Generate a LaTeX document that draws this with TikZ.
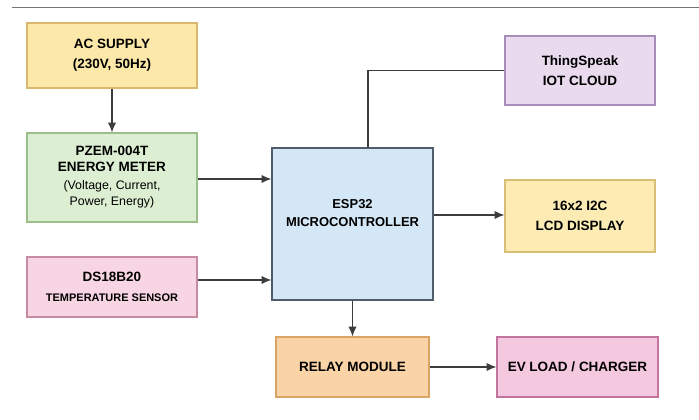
\documentclass[tikz,border=0pt]{standalone}
\usepackage{fontspec}
\setmainfont{Liberation Sans}
\usetikzlibrary{arrows.meta}

\definecolor{acfill}{HTML}{FCE8A8}
\definecolor{acline}{HTML}{D8B86E}
\definecolor{pzfill}{HTML}{DDEFD3}
\definecolor{pzline}{HTML}{9CBF8A}
\definecolor{espfill}{HTML}{D4E7F6}
\definecolor{espline}{HTML}{505C6C}
\definecolor{dsfill}{HTML}{F7D5E2}
\definecolor{dsline}{HTML}{C88CA2}
\definecolor{relfill}{HTML}{FAD4A6}
\definecolor{relline}{HTML}{D9A464}
\definecolor{evfill}{HTML}{F4C8DF}
\definecolor{evline}{HTML}{C2749F}
\definecolor{tsfill}{HTML}{E9DAEE}
\definecolor{tsline}{HTML}{A88DBA}
\definecolor{lcdfill}{HTML}{FCECB4}
\definecolor{lcdline}{HTML}{D6BE72}
\definecolor{wire}{HTML}{3C3C3C}

\tikzset{
  block/.style={draw, line width=0.9pt, inner sep=0pt, align=center,
    font=\bfseries\fontsize{9.6}{14}\selectfont},
  flow/.style={wire, line width=0.85pt, -{Latex[length=7pt,width=6pt]}},
}

\begin{document}
\begin{tikzpicture}[x=0.025cm, y=-0.025cm]
        \useasboundingbox (0,0) rectangle (699,420);
        \draw[gray!90!black, line width=0.7pt] (12,7) -- (699,7);

        % left column
        \node[block, fill=acfill, draw=acline, minimum width=4.25cm, minimum height=1.625cm]
          (ac) at (112,55.5) {AC SUPPLY\\(230V, 50Hz)};
        \node[block, fill=pzfill, draw=pzline, minimum width=4.25cm, minimum height=2.225cm]
          (pzem) at (112,177.5) {};
        \node[align=center, font=\bfseries\fontsize{9.6}{11}\selectfont] (pzemtxt) at (112,177)
          {PZEM-004T\\ENERGY METER\\[2pt]{\mdseries\fontsize{8.8}{10}\selectfont(Voltage, Current,}\\{\mdseries\fontsize{8.8}{10}\selectfont Power, Energy)}};
        \node[block, fill=dsfill, draw=dsline, minimum width=4.25cm, minimum height=1.5cm]
          (ds) at (112,287) {DS18B20\\{\fontsize{7.8}{9}\selectfont TEMPERATURE SENSOR}};

        % controller and outputs
        \node[block, fill=espfill, draw=espline, minimum width=4.025cm, minimum height=3.8cm]
          (esp) at (352.5,224) {};
        \node[align=center, font=\bfseries\fontsize{9.2}{12.5}\selectfont] (esptxt) at (352.5,213)
          {ESP32\\MICROCONTROLLER};
        \node[block, fill=relfill, draw=relline, minimum width=3.825cm, minimum height=1.5cm]
          (relay) at (352.5,367) {RELAY MODULE};
        \node[block, fill=evfill, draw=evline, minimum width=4.025cm, minimum height=1.5cm]
          (ev) at (577.5,367) {EV LOAD / CHARGER};
        \node[block, fill=tsfill, draw=tsline, minimum width=3.75cm, minimum height=1.725cm]
          (ts) at (580,70.5) {ThingSpeak\\IOT CLOUD};
        \node[block, fill=lcdfill, draw=lcdline, minimum width=3.75cm, minimum height=1.8cm]
          (lcd) at (580,216) {16x2 I2C\\LCD DISPLAY};

        % connections
        \draw[flow] (ac) -- (pzem);
        \draw[flow] (pzem.east |- 0,179) -- (esp.west |- 0,179);
        \draw[flow] (ds.east |- 0,280) -- (esp.west |- 0,280);
        \draw[flow] (esp.east |- 0,215) -- (lcd.west |- 0,215);
        \draw[flow] (esp) -- (relay);
        \draw[flow] (relay) -- (ev);
        \draw[wire, line width=0.85pt] (esp.north -| 368,0) |- (ts.west);
      \end{tikzpicture}
\end{document}
